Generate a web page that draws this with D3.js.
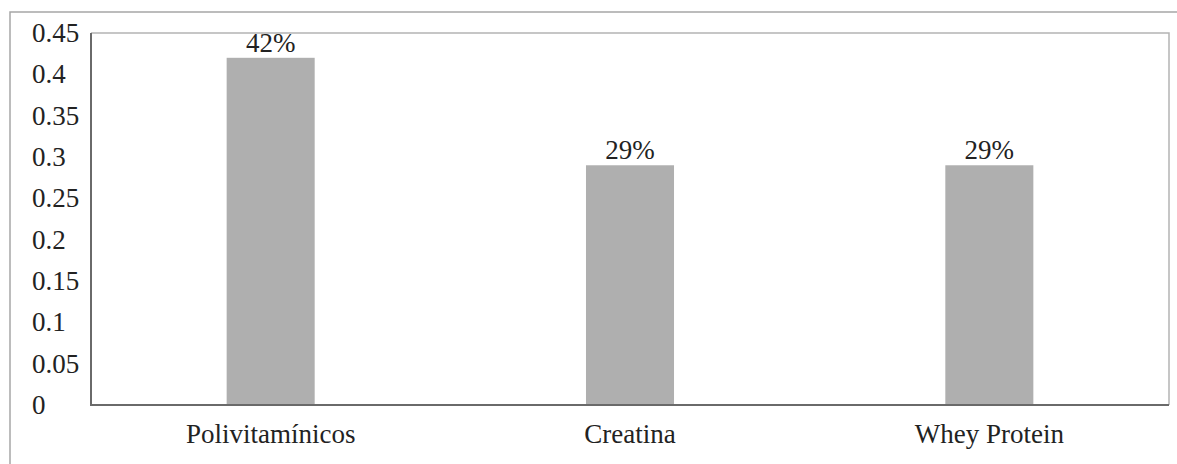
<!DOCTYPE html>
<html>
<head>
<meta charset="utf-8">
<script src="https://cdn.jsdelivr.net/npm/d3@7"></script>
<style>
  html, body { margin: 0; padding: 0; background: #fff; }
  svg { display: block; }
</style>
</head>
<body>
<script>
const categories = ["Polivitamínicos", "Creatina", "Whey Protein"];
const values = [0.42, 0.29, 0.29];
const valueLabels = ["42%", "29%", "29%"];
const tickValues = [0, 0.05, 0.1, 0.15, 0.2, 0.25, 0.3, 0.35, 0.4, 0.45];
const tickLabels = ["0", "0.05", "0.1", "0.15", "0.2", "0.25", "0.3", "0.35", "0.4", "0.45"];

const W = 1177, H = 464;
const plot = { left: 91, right: 1169, top: 33, bottom: 405 };
const FONT = "'Liberation Serif', 'Times New Roman', Times, 'DejaVu Serif', serif";

const svg = d3.select("body").append("svg").attr("width", W).attr("height", H)
  .style("font-family", FONT);

// outer frame (extends beyond image)
svg.append("rect")
  .attr("x", 10).attr("y", 12).attr("width", W + 20).attr("height", H + 20)
  .attr("fill", "none").attr("stroke", "#a6a6a6").attr("stroke-width", 1.5);

const x = d3.scaleBand().domain(categories).range([plot.left, plot.right]).padding(0);
const y = d3.scaleLinear().domain([0, 0.45]).range([plot.bottom, plot.top]);

// plot frame: top and right light
svg.append("path")
  .attr("d", `M${plot.left},${plot.top}H${plot.right}V${plot.bottom}`)
  .attr("fill", "none").attr("stroke", "#b4b4b4").attr("stroke-width", 1.5);

const barW = x.bandwidth() * 0.245;

svg.selectAll("rect.bar").data(values).enter().append("rect")
  .attr("class", "bar")
  .attr("x", (d, i) => x(categories[i]) + x.bandwidth() / 2 - barW / 2)
  .attr("y", d => y(d))
  .attr("width", barW)
  .attr("height", d => y(0) - y(d))
  .attr("fill", "#afafaf");

// axes lines (left and bottom, dark)
svg.append("path")
  .attr("d", `M${plot.left},${plot.top}V${plot.bottom}H${plot.right}`)
  .attr("fill", "none").attr("stroke", "#6a6a6a").attr("stroke-width", 2);

const txt = sel => sel.attr("font-family", FONT).attr("font-size", 27).attr("fill", "#222");

// y tick labels (left aligned)
svg.selectAll("text.ytick").data(tickValues).enter().append("text")
  .attr("class", "ytick")
  .attr("x", 32)
  .attr("y", d => y(d) + 9)
  .call(txt)
  .text((d, i) => tickLabels[i]);

// category labels
svg.selectAll("text.xcat").data(categories).enter().append("text")
  .attr("class", "xcat")
  .attr("x", d => x(d) + x.bandwidth() / 2)
  .attr("y", 443)
  .attr("text-anchor", "middle")
  .call(txt)
  .text(d => d);

// value labels
svg.selectAll("text.val").data(values).enter().append("text")
  .attr("class", "val")
  .attr("x", (d, i) => x(categories[i]) + x.bandwidth() / 2)
  .attr("y", d => y(d) - 6)
  .attr("text-anchor", "middle")
  .call(txt)
  .text((d, i) => valueLabels[i]);
</script>
</body>
</html>
